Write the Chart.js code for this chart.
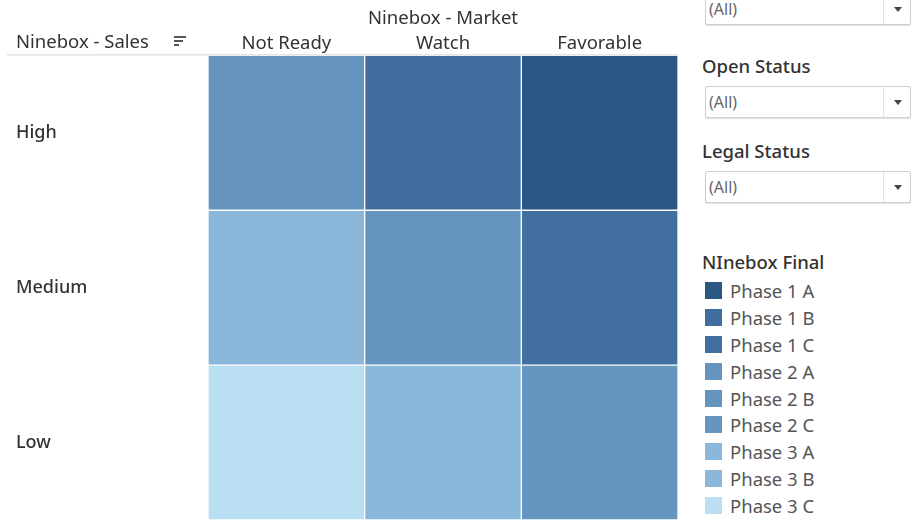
<!DOCTYPE html>
<html>
<head>
<meta charset="utf-8">
<script src="https://cdn.jsdelivr.net/npm/chart.js@4.4.1/dist/chart.umd.min.js"></script>
<style>
  body { margin: 0; background: #fff; font-family: "Noto Sans", sans-serif; }
  #wrap { position: relative; width: 912px; height: 520px; overflow: hidden; }
  #chartBox { position: absolute; left: 0; top: 0; width: 680px; height: 520px; }
  .ttl { position: absolute; left: 702px; font-size: 18.5px; color: #333; font-weight: 500; line-height: 20px; }
  .dd { position: absolute; left: 705px; width: 204px; height: 30px; border: 1px solid #cfcfcf; border-radius: 2px;
        box-shadow: 0 1px 1px rgba(0,0,0,0.12); background: #fff; }
  .dd span { position: absolute; left: 3px; top: 4px; font-size: 16px; color: #666; }
  .dd i { position: absolute; right: 26px; top: 0; bottom: 0; border-left: 1px solid #e4e4e4; }
  .dd b { position: absolute; right: 8px; top: 13px; width: 0; height: 0; border-left: 4px solid transparent;
          border-right: 4px solid transparent; border-top: 5px solid #444; }
  #legend { position: absolute; left: 705px; top: 281px; }
  .li { height: 26.9px; display: flex; align-items: flex-start; }
  .sw { width: 17px; height: 17px; margin-top: 1px; }
  .lt { margin-left: 8px; font-size: 18.5px; color: #555; line-height: 19px; }
</style>
</head>
<body>
<div id="wrap">
  <div id="chartBox"><canvas id="heat"></canvas></div>

  <div class="dd" style="top:-7px"><span>(All)</span><i></i><b></b></div>
  <div class="ttl" style="top:56px">Open Status</div>
  <div class="dd" style="top:86px"><span>(All)</span><i></i><b></b></div>
  <div class="ttl" style="top:141px">Legal Status</div>
  <div class="dd" style="top:171px"><span>(All)</span><i></i><b></b></div>
  <div class="ttl" style="top:252px">NInebox Final</div>
  <div id="legend"></div>
</div>

<script>
// columnas e linhas da ninebox
const marketLabels = ["Not Ready", "Watch", "Favorable"];
const salesLabels = ["Low", "Medium", "High"];   // de baixo para cima

const phaseNames = ["Phase 1 A", "Phase 1 B", "Phase 1 C",
                    "Phase 2 A", "Phase 2 B", "Phase 2 C",
                    "Phase 3 A", "Phase 3 B", "Phase 3 C"];
const phaseColors = ["#2b5784", "#406e9e", "#416f9f",
                     "#6595bf", "#6495bf", "#6596c0",
                     "#8ab7da", "#8bb8da", "#badff2"];

// fase de cada celula, por linha (Not Ready, Watch, Favorable)
const lowPhases = ["Phase 3 C", "Phase 3 B", "Phase 2 C"];
const mediumPhases = ["Phase 3 A", "Phase 2 B", "Phase 1 C"];
const highPhases = ["Phase 2 A", "Phase 1 B", "Phase 1 A"];
const rowPhases = [lowPhases, mediumPhases, highPhases];

const colorOf = p => phaseColors[phaseNames.indexOf(p)];

/**
 * Cabecalho "Ninebox - Sales" + linha cinza
 */
const headerPlugin = {
  id: "header",
  afterDraw(chart) {
    const ctx = chart.ctx;
    const top = chart.chartArea.top;
    ctx.save();
    ctx.fillStyle = "#333";
    ctx.font = "18.5px 'Noto Sans'";
    ctx.textBaseline = "middle";
    ctx.textAlign = "left";
    ctx.fillText("Ninebox - Sales", 16, 43);
    // icone de ordenacao
    ctx.fillStyle = "#555";
    ctx.fillRect(174, 36, 12, 2);
    ctx.fillRect(174, 40, 9, 2);
    ctx.fillRect(174, 44, 5, 2);
    ctx.strokeStyle = "#d4d4d4";
    ctx.lineWidth = 1;
    ctx.beginPath();
    ctx.moveTo(7, top - 0.5);
    ctx.lineTo(chart.chartArea.right, top - 0.5);
    ctx.stroke();
    ctx.restore();
  }
};

function buildLegend() {
  const el = document.getElementById("legend");
  phaseNames.forEach((name, i) => {
    const row = document.createElement("div");
    row.className = "li";
    row.innerHTML = '<div class="sw" style="background:' + phaseColors[i] + '"></div><div class="lt">' + name + "</div>";
    el.appendChild(row);
  });
}

function initHeatmap() {
  const ctx = document.getElementById("heat").getContext("2d");
  new Chart(ctx, {
    type: "bar",
    data: {
      labels: marketLabels,
      datasets: salesLabels.map((s, r) => ({
        label: s,
        data: marketLabels.map(() => 1),
        backgroundColor: rowPhases[r].map(colorOf),
        borderColor: "#ffffff",
        borderWidth: 1,
        borderSkipped: false,
        categoryPercentage: 1,
        barPercentage: 1
      }))
    },
    options: {
      responsive: true,
      maintainAspectRatio: false,
      animation: false,
      layout: { padding: { left: 16, right: 2, top: 8, bottom: 0 } },
      plugins: { legend: { display: false }, tooltip: { enabled: false } },
      scales: {
        x: {
          position: "top",
          stacked: true,
          grid: { display: false, drawTicks: false },
          border: { display: false },
          ticks: { color: "#333", font: { family: "Noto Sans", size: 18.5 }, padding: 1 },
          title: {
            display: true,
            text: "Ninebox - Market",
            color: "#333",
            font: { family: "Noto Sans", size: 18.5 },
            padding: { top: 0, bottom: 1 }
          }
        },
        y: {
          stacked: true,
          min: 0,
          max: 3,
          grid: { display: false, drawTicks: false },
          border: { display: false },
          afterBuildTicks: scale => {
            scale.ticks = salesLabels.map((_, i) => ({ value: i + 0.5 }));
          },
          afterFit: scale => {
            scale.width = 192;
            scale.paddingTop = 0;
            scale.paddingBottom = 0;
          },
          ticks: {
            crossAlign: "far",
            color: "#333",
            font: { family: "Noto Sans", size: 18, weight: "500" },
            callback: v => salesLabels[Math.floor(v)]
          }
        }
      }
    },
    plugins: [headerPlugin]
  });
}

window.onload = () => {
  buildLegend();
  initHeatmap();
};
</script>
</body>
</html>
